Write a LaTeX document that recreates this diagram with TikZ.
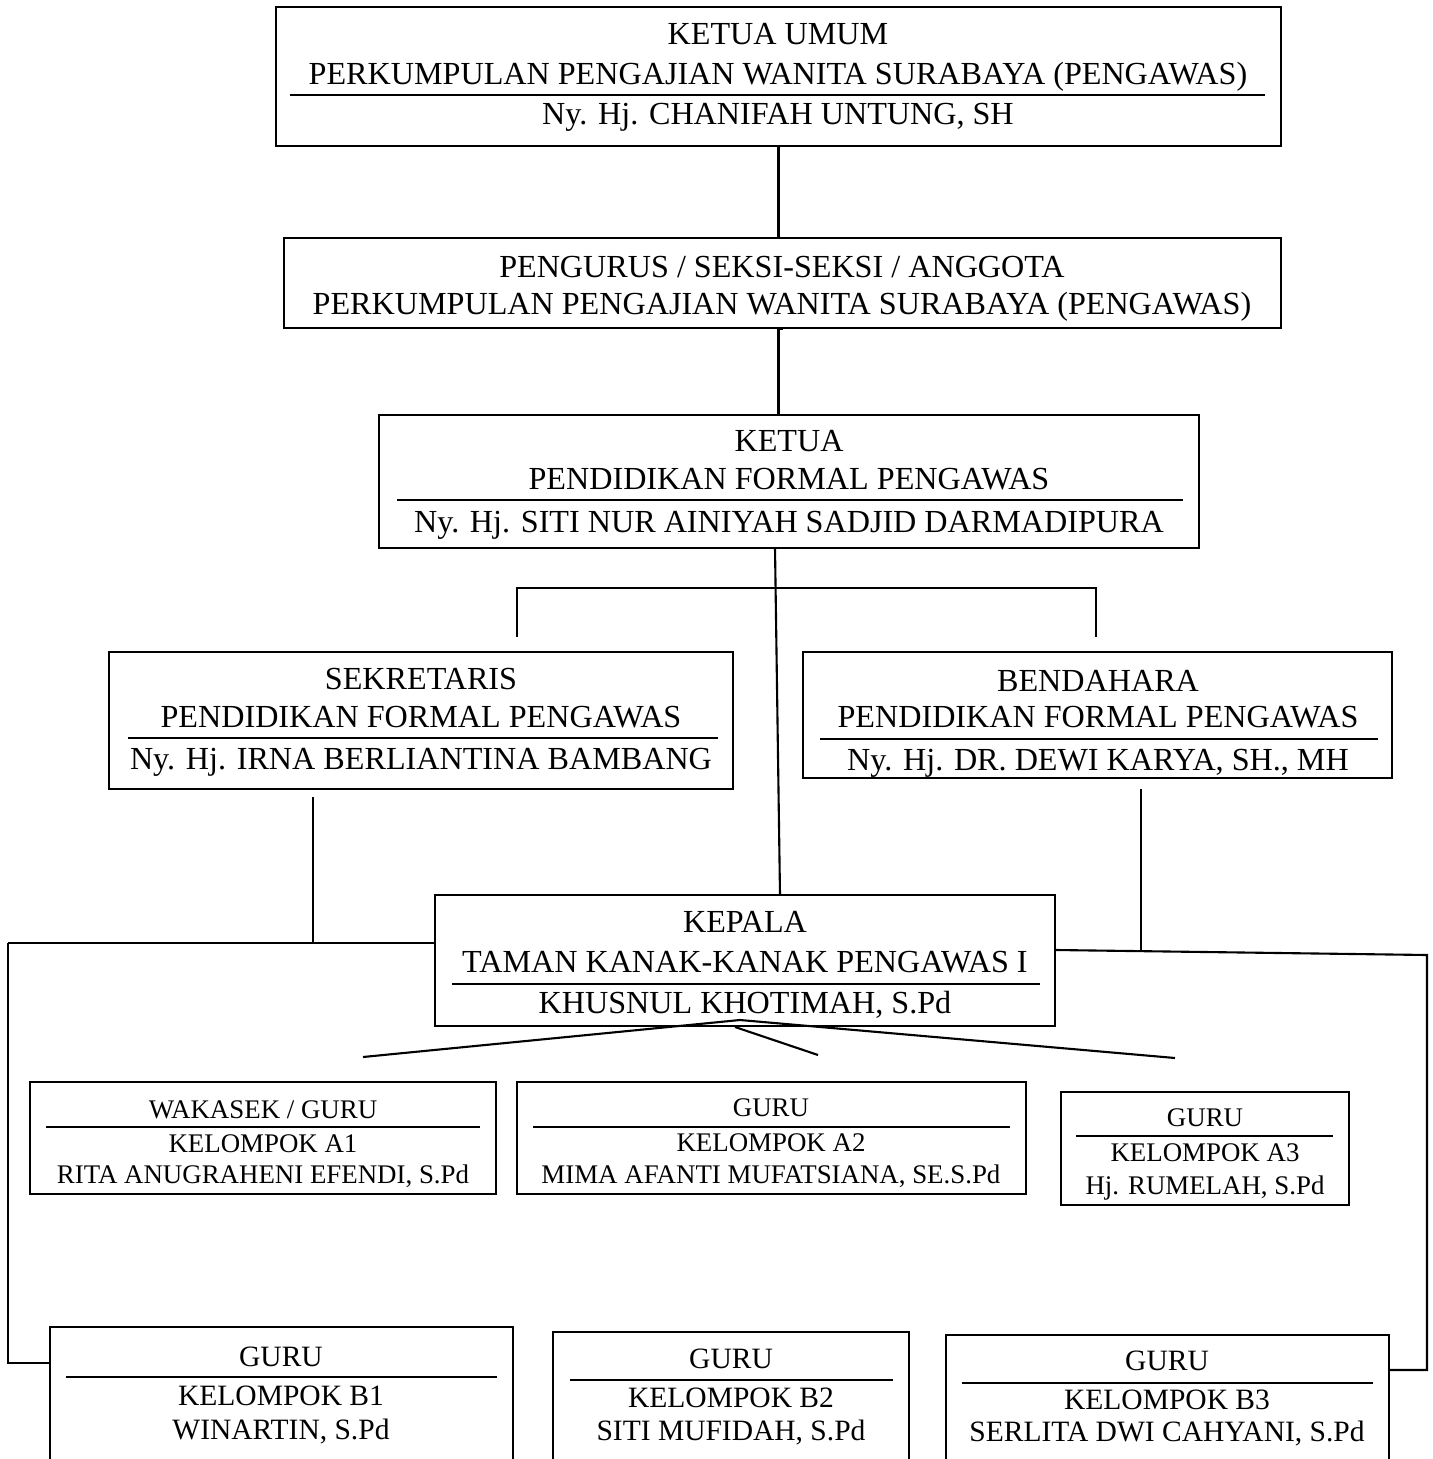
\documentclass[tikz,border=0pt]{standalone}
\usepackage{fontspec}
\setmainfont{Liberation Serif}
\usepackage{xcolor}
\definecolor{cLine}{HTML}{000000}
\usepackage{tikz}
\usetikzlibrary{positioning,fit}
\tikzset{
  org-box/.style={draw=cLine,line width=1.1pt,inner sep=0pt},
  org-big/.style={anchor=base,inner sep=0pt,font=\fontsize{18.3}{20}\selectfont},
  org-mid/.style={anchor=base,inner sep=0pt,font=\fontsize{16.8}{19}\selectfont},
  org-small/.style={anchor=base,inner sep=0pt,font=\fontsize{15.3}{17}\selectfont},
  org-rule/.style={draw=cLine,line width=1.3pt},
  link/.style={draw=cLine,line width=1.2pt},
}

\begin{document}
\begin{tikzpicture}[x=0.02cm,y=-0.02cm]
  \useasboundingbox (0,0) rectangle (1432,1459);
  \clip (0,0) rectangle (1432,1459);
  % kotak-kotak
  \node[org-box,fit={(276,7) (1281,146)}]     (ku)  {};
  \node[org-box,fit={(284,238) (1281,328)}]   (pg)  {};
  \node[org-box,fit={(379,415) (1199,548)}]   (kpf) {};
  \node[org-box,fit={(109,652) (733,789)}]    (sek) {};
  \node[org-box,fit={(803,652) (1392,778)}]   (ben) {};
  \node[org-box,fit={(435,895) (1055,1026)}]  (kep) {};
  \node[org-box,fit={(30,1082) (496,1194)}]   (a1)  {};
  \node[org-box,fit={(517,1082) (1026,1194)}] (a2)  {};
  \node[org-box,fit={(1061,1092) (1349,1205)}](a3)  {};
  \node[org-box,fit={(50,1327) (513,1490)}]   (b1)  {};
  \node[org-box,fit={(553,1332) (909,1490)}]  (b2)  {};
  \node[org-box,fit={(946,1335) (1389,1490)}] (b3)  {};
  % teks
  \node[org-big] (ku-1) at (778,45)  {KETUA UMUM};
  \node[org-big] (ku-2) at (778,85)  {PERKUMPULAN PENGAJIAN WANITA SURABAYA (PENGAWAS)};
  \node[org-big] (ku-3) at (778,125) {Ny. Hj. CHANIFAH UNTUNG, SH};
  \draw[org-rule] (290,95) -- (1265,95);
  \node[org-big] (pg-1) at (782,278) {PENGURUS / SEKSI-SEKSI / ANGGOTA};
  \node[org-big] (pg-2) at (782,315) {PERKUMPULAN PENGAJIAN WANITA SURABAYA (PENGAWAS)};
  \node[org-big] (kpf-1) at (789,451) {KETUA};
  \node[org-big] (kpf-2) at (789,489) {PENDIDIKAN FORMAL PENGAWAS};
  \node[org-big] (kpf-3) at (789,532) {Ny. Hj. SITI NUR AINIYAH SADJID DARMADIPURA};
  \draw[org-rule] (397,500) -- (1183,500);
  \node[org-big] (sek-1) at (421,689) {SEKRETARIS};
  \node[org-big] (sek-2) at (421,727) {PENDIDIKAN FORMAL PENGAWAS};
  \node[org-big] (sek-3) at (421,769) {Ny. Hj. IRNA BERLIANTINA BAMBANG};
  \draw[org-rule] (128,738) -- (718,738);
  \node[org-big] (ben-1) at (1098,691) {BENDAHARA};
  \node[org-big] (ben-2) at (1098,727) {PENDIDIKAN FORMAL PENGAWAS};
  \node[org-big] (ben-3) at (1098,770) {Ny. Hj. DR. DEWI KARYA, SH., MH};
  \draw[org-rule] (820,739) -- (1378,739);
  \node[org-big] (kep-1) at (745,932)  {KEPALA};
  \node[org-big] (kep-2) at (745,972)  {TAMAN KANAK-KANAK PENGAWAS I};
  \node[org-big] (kep-3) at (745,1013) {KHUSNUL KHOTIMAH, S.Pd};
  \draw[org-rule] (452,984) -- (1040,984);
  \node[org-small] (a1-1) at (263,1118) {WAKASEK / GURU};
  \node[org-small] (a1-2) at (263,1152) {KELOMPOK A1};
  \node[org-small] (a1-3) at (263,1183) {RITA ANUGRAHENI EFENDI, S.Pd};
  \draw[org-rule] (46,1127) -- (480,1127);
  \node[org-small] (a2-1) at (771,1116) {GURU};
  \node[org-small] (a2-2) at (771,1151) {KELOMPOK A2};
  \node[org-small] (a2-3) at (771,1183) {MIMA AFANTI MUFATSIANA, SE.S.Pd};
  \draw[org-rule] (533,1127) -- (1010,1127);
  \node[org-small] (a3-1) at (1205,1126) {GURU};
  \node[org-small] (a3-2) at (1205,1161) {KELOMPOK A3};
  \node[org-small] (a3-3) at (1205,1194) {Hj. RUMELAH, S.Pd};
  \draw[org-rule] (1076,1136) -- (1333,1136);
  \node[org-mid] (b1-1) at (281,1366) {GURU};
  \node[org-mid] (b1-2) at (281,1405) {KELOMPOK B1};
  \node[org-mid] (b1-3) at (281,1439) {WINARTIN, S.Pd};
  \draw[org-rule] (66,1377) -- (497,1377);
  \node[org-mid] (b2-1) at (731,1368) {GURU};
  \node[org-mid] (b2-2) at (731,1407) {KELOMPOK B2};
  \node[org-mid] (b2-3) at (731,1440) {SITI MUFIDAH, S.Pd};
  \draw[org-rule] (570,1380) -- (893,1380);
  \node[org-mid] (b3-1) at (1167,1370) {GURU};
  \node[org-mid] (b3-2) at (1167,1409) {KELOMPOK B3};
  \node[org-mid] (b3-3) at (1167,1441) {SERLITA DWI CAHYANI, S.Pd};
  \draw[org-rule] (962,1383) -- (1373,1383);
  % garis penghubung
  \coordinate (brL) at (517,588);
  \coordinate (brR) at (1096,588);
  \coordinate (kpf-out) at (775,548);
  \coordinate (kep-in) at (780,895);
  \coordinate (sek-out) at (313,797);
  \coordinate (left-top) at (8,943);
  \coordinate (left-bot) at (8,1363);
  \coordinate (ben-out) at (1141,789);
  \coordinate (right-top) at (1427,955);
  \coordinate (right-bot) at (1427,1370);
  \coordinate (apex) at (740,1020);
  \coordinate (fanL) at (363,1057);
  \coordinate (fanM) at (818,1055);
  \coordinate (fanR) at (1175,1058);
  \draw[link] (ku.south) -- (ku.south |- pg.north);
  \draw[link] (pg.south) -- (pg.south -| ku.south) -- (ku.south |- kpf.north);
  \draw[link] (brL |- 0,637) -- (brL) -- (brR) -- (brR |- 0,637);
  \draw[link] (kpf-out) -- (kep-in);
  \draw[link] (sek-out) -- (sek-out |- left-top);
  \draw[link] (left-top) -- (left-top -| kep.west);
  \draw[link] (left-top) -- (left-bot) -- (left-bot -| b1.west);
  \draw[link] (ben-out) -- (ben-out |- 0,950);
  \draw[link] (kep.east |- 0,950) -- (right-top) -- (right-bot) -- (right-bot -| b3.east);
  \draw[link] (apex) -- (fanL);
  \draw[link] (apex) -- (fanR);
  \draw[link] (735,1027) -- (fanM);
\end{tikzpicture}
\end{document}
